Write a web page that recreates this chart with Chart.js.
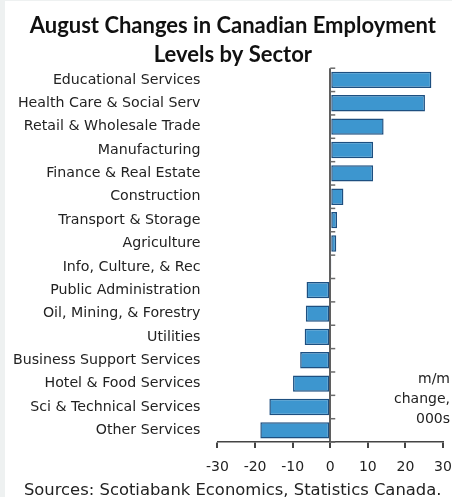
<!DOCTYPE html>
<html>
<head>
<meta charset="utf-8">
<script src="https://cdn.jsdelivr.net/npm/chart.js@4.4.1/dist/chart.umd.min.js"></script>
<style>
  html, body { margin: 0; padding: 0; background: #fff; }
  #wrap { width: 447px; height: 496px; border-left: 5px solid #eef1f1; border-top: 1px solid #eef1f1; background: #fff; }
</style>
</head>
<body>
<div id="wrap"><canvas id="grafico" width="447" height="496"></canvas></div>
<script>
const setores = [
  'Educational Services', 'Health Care & Social Serv', 'Retail & Wholesale Trade',
  'Manufacturing', 'Finance & Real Estate', 'Construction', 'Transport & Storage',
  'Agriculture', 'Info, Culture, & Rec', 'Public Administration', 'Oil, Mining, & Forestry',
  'Utilities', 'Business Support Services', 'Hotel & Food Services',
  'Sci & Technical Services', 'Other Services'
];
const variacao = [26.9, 25.2, 14.2, 11.4, 11.4, 3.5, 1.8, 1.6, 0.2, -6.3, -6.5, -6.8, -8.0, -9.9, -16.2, -18.6];
const ticksX = [-30, -20, -10, 0, 10, 20, 30];
const notaUnidade = ['m/m', 'change,', '000s'];

const fonteTitulo = "Lato, 'Open Sans', sans-serif";
const fonteTexto = "'DejaVu Sans', sans-serif";

// marcas pequenas no eixo zero entre as categorias + nota de unidade
const extras = {
  id: 'extras',
  afterDatasetsDraw(chart) {
    const { ctx, chartArea, scales } = chart;
    const x0 = scales.x.getPixelForValue(0);
    const y = scales.y;
    ctx.save();
    ctx.strokeStyle = '#6b6b6b';
    ctx.lineWidth = 1.5;
    for (let i = 0; i <= setores.length; i++) {
      const py = y.getPixelForValue(i - 0.5);
      ctx.beginPath();
      ctx.moveTo(x0, py);
      ctx.lineTo(x0 + 5, py);
      ctx.stroke();
    }
    ctx.fillStyle = '#222';
    ctx.font = '14px ' + fonteTexto;
    ctx.textAlign = 'right';
    ctx.textBaseline = 'middle';
    notaUnidade.forEach((t, i) => {
      ctx.fillText(t, chartArea.right + 7, y.getPixelForValue(12.8) + i * 20);
    });
    ctx.restore();
  }
};

new Chart(document.getElementById('grafico').getContext('2d'), {
  type: 'bar',
  data: {
    labels: setores,
    datasets: [{
      data: variacao,
      backgroundColor: '#3d96cf',
      borderColor: '#1d4f80',
      borderWidth: 1.5,
      borderSkipped: false,
      barPercentage: 0.7,
      categoryPercentage: 1
    }]
  },
  options: {
    indexAxis: 'y',
    responsive: false,
    animation: false,
    layout: { padding: { left: 0, right: 2, top: 0, bottom: 0 } },
    plugins: {
      legend: { display: false },
      tooltip: { enabled: false },
      title: {
        display: true,
        text: ['  August Changes in Canadian Employment', '  Levels by Sector'],
        color: '#111',
        font: { family: fonteTitulo, size: 22, weight: 'bold', lineHeight: 1.3 },
        padding: { top: 11, bottom: -1 }
      },
      subtitle: {
        display: true,
        position: 'bottom',
        text: '  Sources: Scotiabank Economics, Statistics Canada.',
        color: '#222',
        font: { family: fonteTexto, size: 16.4, lineHeight: 0.8 },
        padding: { top: -3, bottom: 0 }
      }
    },
    scales: {
      x: {
        min: -30,
        max: 30,
        afterBuildTicks: s => { s.ticks = ticksX.map(v => ({ value: v })); },
        afterFit: s => { s.paddingLeft = 0; s.paddingRight = 9; },
        border: { display: true, color: '#444', width: 1.5 },
        grid: {
          drawOnChartArea: true,
          color: c => (c.tick && c.tick.value === 0) ? '#5f5f5f' : 'rgba(0,0,0,0)',
          lineWidth: 2,
          tickColor: '#444',
          tickLength: 6
        },
        ticks: { color: '#222', font: { family: fonteTexto, size: 14 }, padding: 11 }
      },
      y: {
        afterFit: s => { s.width -= 9; },
        border: { display: false },
        grid: { display: false, drawTicks: false },
        ticks: { color: '#222', font: { family: fonteTexto, size: 14.2 }, padding: 17, autoSkip: false }
      }
    }
  },
  plugins: [extras]
});
</script>
</body>
</html>
